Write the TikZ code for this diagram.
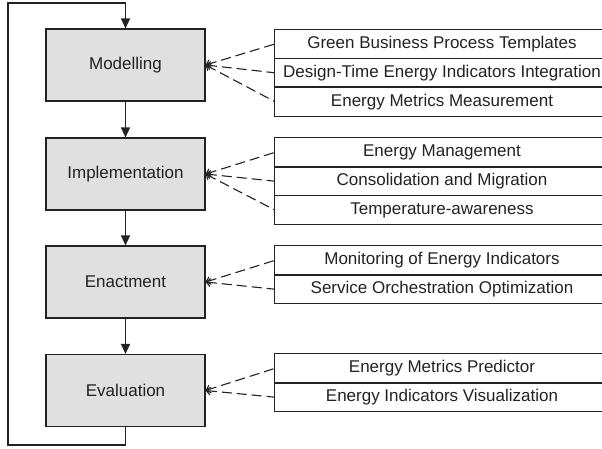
\documentclass[tikz,border=0pt]{standalone}
\usepackage{fontspec}
\setmainfont{Liberation Sans}
\usetikzlibrary{arrows.meta}
\definecolor{ln}{HTML}{222222}
\definecolor{boxfill}{HTML}{E0E0E0}
\begin{document}
\begin{tikzpicture}[x=1pt,y=-1pt,
  font=\fontsize{17}{20}\selectfont,
  phase/.style={draw=ln,line width=1.1pt,fill=boxfill,minimum width=159pt,minimum height=72pt,inner sep=0pt,text=ln},
  item/.style={minimum width=334pt,minimum height=28.8pt,inner sep=0pt,text=ln},
  itemframe/.style={draw=ln,line width=1.1pt},
  flow/.style={draw=ln,line width=1.2pt,-{Triangle[length=10pt,width=9pt]}},
  link/.style={draw=ln,line width=1.1pt,dash pattern=on 10pt off 5pt,{Straight Barb[length=4pt,width=8pt]}-}]
\useasboundingbox (0,0) rectangle (602,448);
% phases
\node[phase] (mod) at (125.5,65) {Modelling};
\node[phase] (imp) at (125.5,174) {Implementation};
\node[phase] (ena) at (125.5,282) {Enactment};
\node[phase] (eva) at (125.5,390.5) {Evaluation};
% items
\node[item] (m1) at (442,44) {Green Business Process Templates};
\node[item] (m2) at (442,72.8) {Design-Time Energy Indicators Integration};
\node[item] (m3) at (442,101.6) {Energy Metrics Measurement};
\node[item] (i1) at (442,152.4) {Energy Management};
\node[item] (i2) at (442,181.2) {Consolidation and Migration};
\node[item] (i3) at (442,210) {Temperature-awareness};
\node[item] (e1) at (442,260.4) {Monitoring of Energy Indicators};
\node[item] (e2) at (442,289.2) {Service Orchestration Optimization};
\node[item] (v1) at (442,368.4) {Energy Metrics Predictor};
\node[item] (v2) at (442,397.2) {Energy Indicators Visualization};
\foreach \r in {m1,m2,m3,i1,i2,i3,e1,e2,v1,v2}
  \draw[itemframe] ([xshift=40pt]\r.north east) -- (\r.north west) -- (\r.south west) -- ([xshift=40pt]\r.south east);
% flow
\draw[flow] (mod) -- (imp);
\draw[flow] (imp) -- (ena);
\draw[flow] (ena) -- (eva);
\coordinate (lb) at (125.5,445);
\coordinate (ll) at (8,445);
\coordinate (lt) at (8,3);
\coordinate (lr) at (125.5,3);
\draw[flow] (eva.south) -- (lb) -- (ll) -- (lt) -- (lr) -- (mod.north);
% links
\foreach \p/\r in {mod/m1,mod/m2,mod/m3,imp/i1,imp/i2,imp/i3,ena/e1,ena/e2,eva/v1,eva/v2}
  \draw[link] (\p.east) -- (\r.west);
\end{tikzpicture}
\end{document}
